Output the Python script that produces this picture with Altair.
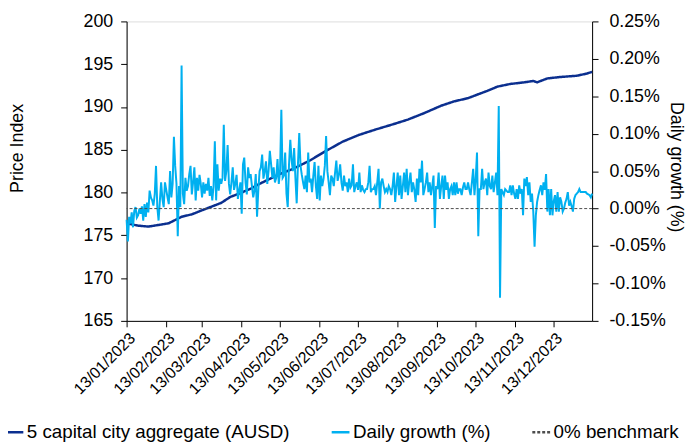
import altair as alt
import pandas as pd

# ---------------- data ----------------
SERIES = ["5 capital city aggregate (AUSD)", "Daily growth (%)", "0% benchmark"]
COLORS = ["#0b2f8f", "#00b0f0", "#4d4d4d"]
DASHES = [[1, 0], [1, 0], [3, 2]]

# Price index (left axis), read at selected dates
price_dates = [
    "2023-01-13", "2023-01-22", "2023-01-30", "2023-02-07", "2023-02-15", "2023-02-20",
    "2023-02-25", "2023-03-05", "2023-03-12", "2023-03-20", "2023-03-28", "2023-04-04",
    "2023-04-12", "2023-04-20", "2023-04-27", "2023-05-05", "2023-05-13", "2023-05-23",
    "2023-06-05", "2023-06-18", "2023-07-01", "2023-07-14", "2023-07-27", "2023-08-09",
    "2023-08-21", "2023-09-03", "2023-09-16", "2023-09-26", "2023-10-07", "2023-10-15",
    "2023-10-22", "2023-10-30", "2023-11-09", "2023-11-20", "2023-11-27", "2023-11-30",
    "2023-12-08", "2023-12-18", "2023-12-31", "2024-01-08", "2024-01-12",
]
price_values = [
    176.40, 176.13, 176.02, 176.21, 176.41, 176.79,
    177.17, 177.45, 177.87, 178.33, 178.79, 179.48,
    179.94, 180.45, 181.02, 181.60, 182.18, 182.76,
    183.72, 184.87, 185.95, 186.75, 187.38, 187.96,
    188.53, 189.30, 190.15, 190.65, 191.03, 191.49,
    191.88, 192.38, 192.69, 192.88, 193.04, 192.88,
    193.34, 193.50, 193.65, 193.91, 194.11,
]

# Daily growth (%) (right axis), one value per day starting 13/01/2023
growth_start = "2023-01-13"
growth = [
    -0.015, -0.044, -0.011, -0.020, -0.005, -0.025, -0.003, 0.002, -0.012, -0.009,
    0.000, -0.007, 0.003, -0.016, 0.006, -0.011, 0.008, -0.005, 0.024, 0.015,
    0.011, 0.004, 0.019, 0.057, 0.002, -0.016, 0.010, 0.035, 0.013, 0.002,
    0.035, 0.025, 0.015, 0.006, 0.050, 0.015, 0.033, 0.096, 0.057, 0.033,
    -0.037, 0.030, 0.002, 0.191, 0.020, 0.006, 0.041, 0.024, 0.030, 0.046,
    0.057, 0.019, 0.035, 0.055, 0.011, 0.041, 0.024, 0.045, 0.033, 0.015,
    0.035, 0.020, 0.033, 0.024, 0.041, 0.017, 0.030, 0.011, 0.030, 0.090,
    0.011, 0.059, 0.024, 0.040, 0.033, 0.041, 0.112, 0.037, 0.050, 0.085,
    0.033, 0.019, 0.035, 0.055, 0.025, 0.033, 0.045, 0.013, 0.024, 0.035,
    -0.007, 0.059, 0.068, 0.035, 0.019, 0.055, 0.041, 0.046, 0.030, 0.015,
    0.024, 0.046, -0.011, 0.025, 0.050, 0.055, 0.072, 0.040, 0.050, 0.063,
    0.033, 0.050, 0.077, 0.059, 0.041, 0.055, 0.035, 0.041, 0.066, 0.033,
    0.050, 0.132, 0.041, 0.044, 0.075, 0.020, 0.002, 0.059, 0.092, 0.065,
    0.050, 0.081, 0.041, 0.007, 0.060, 0.101, 0.057, 0.045, 0.035, 0.026,
    0.044, 0.022, 0.075, 0.035, 0.040, 0.022, 0.044, 0.062, 0.030, 0.013,
    0.057, 0.011, 0.044, 0.030, 0.040, 0.057, 0.097, 0.050, 0.035, 0.018,
    0.044, 0.040, 0.030, 0.048, 0.064, 0.037, 0.045, 0.059, 0.035, 0.024,
    0.044, 0.030, 0.035, 0.022, 0.040, 0.028, 0.031, 0.059, 0.022, 0.030,
    0.035, 0.025, 0.048, 0.022, 0.031, 0.025, 0.022, 0.026, 0.026, 0.035,
    0.057, 0.022, 0.026, 0.026, 0.030, 0.018, 0.035, 0.053, 0.000, 0.035,
    0.040, 0.030, 0.022, 0.026, 0.022, 0.030, 0.026, 0.018, 0.030, 0.048,
    0.009, 0.030, 0.048, 0.018, 0.044, 0.013, 0.030, 0.048, 0.022, 0.053,
    0.018, 0.035, 0.048, 0.022, 0.035, 0.025, 0.009, 0.040, 0.018, 0.053,
    0.035, 0.064, 0.018, 0.026, 0.035, 0.048, 0.022, 0.035, 0.018, 0.030,
    0.044, -0.026, 0.030, 0.026, 0.048, 0.013, 0.030, 0.044, 0.013, 0.044,
    0.025, 0.035, 0.013, 0.026, 0.030, 0.018, 0.035, 0.018, 0.035, 0.020,
    0.026, 0.026, 0.018, 0.028, 0.035, 0.026, 0.026, 0.035, 0.025, 0.018,
    0.035, 0.053, 0.018, 0.040, 0.075, -0.037, 0.026, 0.026, 0.053, 0.026,
    0.035, 0.040, 0.018, 0.048, 0.030, 0.026, 0.044, 0.022, 0.035, 0.048,
    0.018, 0.137, -0.119, 0.026, 0.022, 0.018, 0.026, 0.024, 0.022, 0.022,
    0.031, 0.018, 0.031, 0.020, 0.013, 0.026, 0.013, 0.031, 0.020, 0.026,
    -0.009, 0.040, 0.030, 0.042, 0.018, 0.035, 0.009, 0.020, -0.004, -0.051,
    -0.009, 0.009, 0.018, 0.025, 0.031, 0.018, 0.035, 0.025, 0.046, -0.004,
    0.026, -0.009, 0.026, -0.009, 0.010, 0.018, -0.004, 0.022, -0.004, 0.015,
    0.009, -0.004, 0.000, 0.008, 0.013, 0.022, 0.004, 0.009, 0.003, -0.004,
    0.013, 0.018, 0.020, 0.022, 0.026, 0.022, 0.022, 0.022, 0.022, 0.022,
    0.020, 0.019, 0.018, 0.015, 0.020,
]

price_ticks = [165, 170, 175, 180, 185, 190, 195, 200]
growth_ticks = [-0.15, -0.10, -0.05, 0.0, 0.05, 0.10, 0.15, 0.20, 0.25]
tick_months = list(range(1, 13))

# ---------------- frames ----------------
growth_dates = pd.date_range(growth_start, periods=len(growth), freq="D").strftime("%Y-%m-%d")
price_df = pd.DataFrame({"date": price_dates, "value": price_values, "series": SERIES[0]})
growth_df = pd.DataFrame({"date": list(growth_dates), "value": growth, "series": SERIES[1]})
bench_df = pd.DataFrame({"value": [0.0], "series": [SERIES[2]]})

FONT = "Liberation Sans"

legend = alt.Legend(
    title=None, orient="none", legendX=-124, legendY=405, direction="horizontal",
    columns=3, columnPadding=36, symbolType="stroke", symbolSize=324,
    symbolStrokeWidth=2.5, labelFont=FONT, labelFontSize=19, labelColor="#000000",
    labelLimit=400, labelOffset=2,
)
color = alt.Color("series:N", scale=alt.Scale(domain=SERIES, range=COLORS), legend=legend)
dash = alt.StrokeDash("series:N", scale=alt.Scale(domain=SERIES, range=DASHES), legend=legend)

x = alt.X(
    "date:T",
    title=None,
    scale=alt.Scale(
        type="utc",
        domain=[alt.DateTime(year=2023, month=1, date=13, utc=True),
                alt.DateTime(year=2024, month=1, date=12, utc=True)],
    ),
    axis=alt.Axis(
        values=[alt.DateTime(year=2023, month=m, date=13, utc=True) for m in tick_months],
        format="%d/%m/%Y", labelAngle=315, labelAlign="right", labelBaseline="top",
        labelFont=FONT, labelFontSize=16, labelColor="#000000", labelPadding=3,
        labelOverlap=False, labelFlush=False, labelBound=False,
        tickSize=6, tickColor="#000000", domainColor="#000000", grid=False,
    ),
)

price = alt.Chart(price_df).mark_line(strokeWidth=2.5).encode(
    x=x,
    y=alt.Y(
        "value:Q",
        scale=alt.Scale(domain=[165, 200], nice=False, zero=False),
        axis=alt.Axis(
            values=price_ticks, title="Price Index", orient="left",
            titleFont=FONT, titleFontSize=18, titleFontWeight="normal", titleColor="#000000",
            titleX=-110, titleY=128, titleAngle=270, titleBaseline="middle",
            labelFont=FONT, labelFontSize=18, labelColor="#000000", labelPadding=8,
            tickSize=6, tickColor="#000000", domainColor="#000000", grid=False,
        ),
    ),
    color=color,
    strokeDash=dash,
)

growth_axis = alt.Axis(
    values=growth_ticks, title="Daily growth (%)", orient="right",
    labelExpr="(datum.value < 0 ? '-' : '') + format(abs(datum.value), '.2f') + '%'",
    titleFont=FONT, titleFontSize=18, titleFontWeight="normal", titleColor="#000000",
    titleX=84, titleY=147, titleAngle=90, titleBaseline="middle",
    labelFont=FONT, labelFontSize=18, labelColor="#000000", labelPadding=11,
    tickSize=6, tickColor="#000000", domainColor="#000000", grid=False,
)
growth_scale = alt.Scale(domain=[-0.15, 0.25], nice=False, zero=False)

growth_line = alt.Chart(growth_df).mark_line(strokeWidth=2).encode(
    x=x,
    y=alt.Y("value:Q", scale=growth_scale, axis=growth_axis),
    color=color,
    strokeDash=dash,
)

bench = alt.Chart(bench_df).mark_rule(strokeWidth=1).encode(
    y=alt.Y("value:Q", scale=growth_scale, axis=growth_axis),
    color=color,
    strokeDash=dash,
)

chart = alt.layer(price, alt.layer(growth_line, bench)).resolve_scale(
    y="independent"
).properties(
    width=471, height=303,
    padding={"left": 120, "top": 11, "right": 95, "bottom": 122},
    autosize=alt.AutoSizeParams(type="none"),
).configure_view(stroke=None).configure(background="white")

chart.save("out.html", embed_options={"renderer": "svg", "actions": False})
